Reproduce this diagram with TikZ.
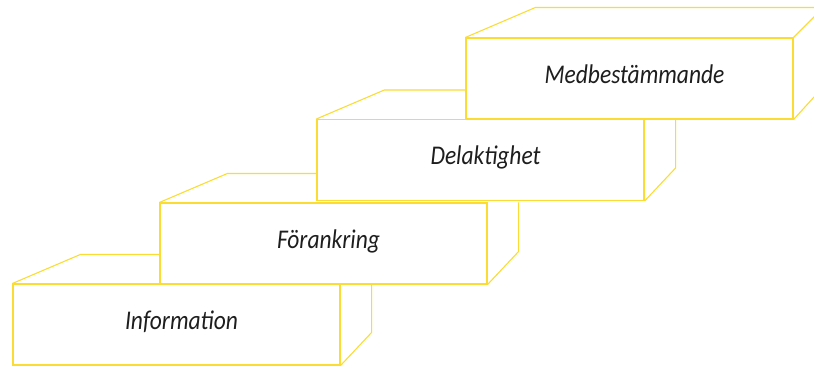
\documentclass[tikz,border=0pt]{standalone}
\usepackage{fontspec}
\newfontfamily\stepfont[FakeStretch=0.87]{Carlito}
\definecolor{stepyellow}{RGB}{250,220,50}
\definecolor{steptext}{RGB}{30,30,30}
\usetikzlibrary{calc}
\tikzset{
    stepbox/.style={draw=stepyellow, fill=white, line width=1.1pt, minimum width=327pt, minimum height=81pt, inner sep=0pt},
    steplabel/.style={xshift=5pt, inner sep=0pt, text height=17pt, text depth=8pt, text=steptext, font=\stepfont\itshape\fontsize{27}{30}\selectfont},
    edgeline/.style={draw=stepyellow, line width=1.1pt, line join=round},
}

\begin{document}
\begin{tikzpicture}[x=1pt,y=-1pt]
    \clip (0,0) rectangle (814,367);
    \node[stepbox, label={[steplabel]center:Information}] (info) at (176.5,324.5) {};
    \node[stepbox, label={[steplabel]center:Förankring}] (fork) at (323.5,243.5) {};
    \node[stepbox, label={[steplabel]center:Delaktighet}] (del) at (480.5,160) {};
    \node[stepbox, label={[steplabel]center:Medbestämmande}] (med) at (629.5,78.5) {};

    \foreach \lo/\hi in {info/fork,fork/del,del/med}{
        \path[edgeline] (\lo.north west) -- ++(68,-29) coordinate (\lo-back) -- (\lo-back -| \hi.west);
        \path[edgeline] ($(\lo.north east)+(31,0)$) -- ($(\lo.south east)+(31,-33)$) -- (\lo.south east);
    }
    \path[edgeline] (med.north west) -- ++(70,-30) -- ($(med.north east)+(30,-30)$) coordinate (med-back) -- (med.north east);
    \path[edgeline] (med-back) -- ($(med.south east)+(30,-33)$) -- (med.south east);
\end{tikzpicture}
\end{document}
